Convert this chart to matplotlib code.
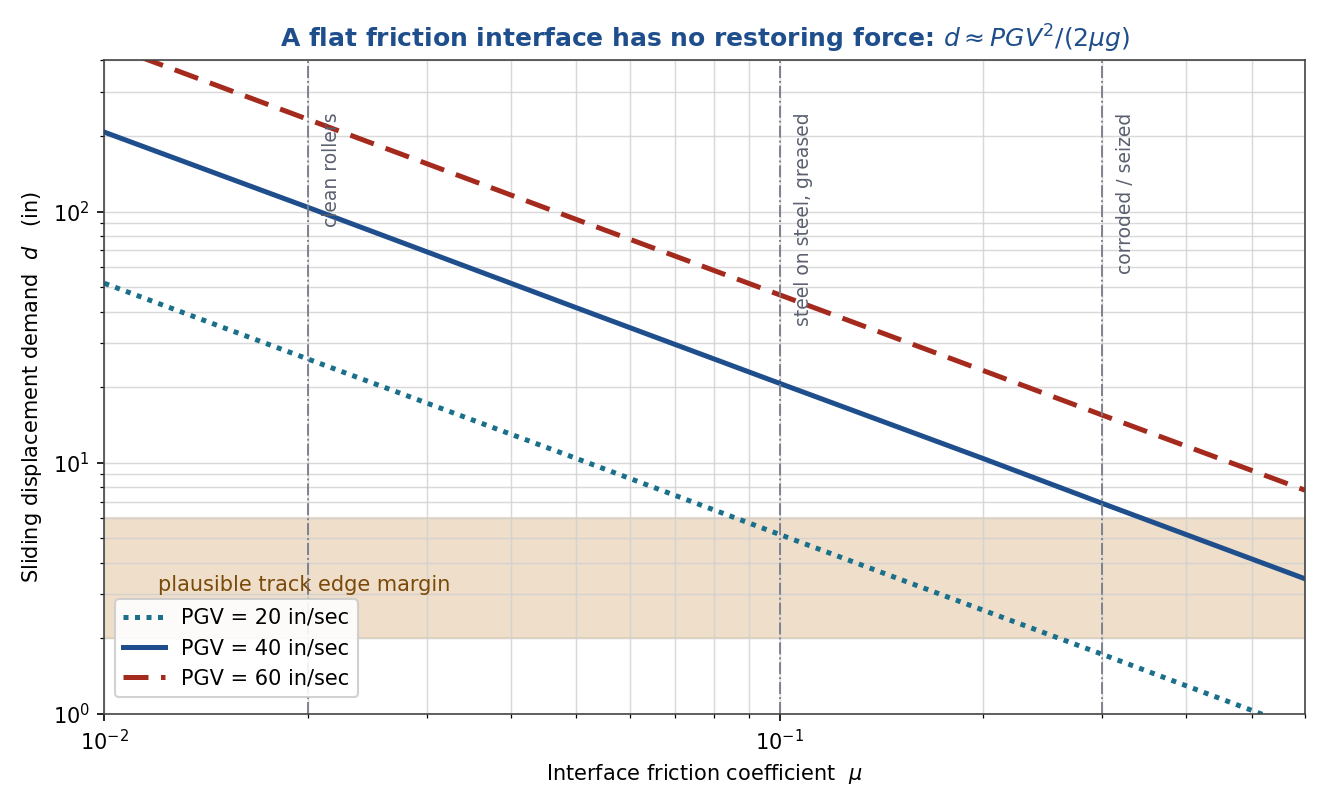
import matplotlib
matplotlib.use("Agg")
import matplotlib.pyplot as plt

mu = [0.01, 0.02, 0.05, 0.1, 0.2, 0.3, 0.6]
d_pgv20 = [51.8, 25.9, 10.4, 5.18, 2.59, 1.73, 0.86]
d_pgv40 = [207, 104, 41.4, 20.7, 10.4, 6.9, 3.45]
d_pgv60 = [466, 233, 93, 46.6, 23.3, 15.5, 7.77]
ref_mu = [0.02, 0.1, 0.3]
ref_labels = ["clean rollers", "steel on steel, greased", "corroded / seized"]
band = (2, 6)

fig, ax = plt.subplots(figsize=(8.807, 5.36), dpi=150)
fig.subplots_adjust(left=0.079, right=0.988, top=0.925, bottom=0.112)

ax.axhspan(band[0], band[1], color="#e3c9a8", alpha=0.6, zorder=0)
ax.text(0.012, 3.25, "plausible track edge margin", color="#7a4a0a", fontsize=10, va="center")

ax.plot(mu, d_pgv20, ls=(0, (1, 1.3)), lw=2.4, color="#1a6f8a", label="PGV = 20 in/sec")
ax.plot(mu, d_pgv40, ls="-", lw=2.4, color="#1f4e8c", label="PGV = 40 in/sec")
ax.plot(mu, d_pgv60, ls=(0, (5, 2.5)), lw=2.4, color="#a52a1e", label="PGV = 60 in/sec")

for m, lab in zip(ref_mu, ref_labels):
    ax.axvline(m, color="#7a7f8a", ls="-.", lw=0.9)
    ax.text(m * 1.05, 0.92, lab, transform=ax.get_xaxis_transform(), rotation=90,
            va="top", ha="left", fontsize=9, color="#5a6070")

ax.set_xscale("log"); ax.set_yscale("log")
ax.set_xlim(0.01, 0.6); ax.set_ylim(1, 400)
ax.grid(True, which="both", color="#d0d0d0", lw=0.7, alpha=0.8)
ax.set_xlabel(r"Interface friction coefficient  $\mu$", fontsize=10)
ax.set_ylabel(r"Sliding displacement demand  $d$   (in)", fontsize=10)
ax.set_title(r"A flat friction interface has no restoring force: $d \approx PGV^2/(2\mu g)$",
             color="#1f4e8c", fontweight="bold", fontsize=12)
ax.legend(loc="lower left", fontsize=10, framealpha=0.9, bbox_to_anchor=(0.0, 0.01))
for s in ax.spines.values():
    s.set_color("#444444")
fig.savefig("out.png", dpi=150)
